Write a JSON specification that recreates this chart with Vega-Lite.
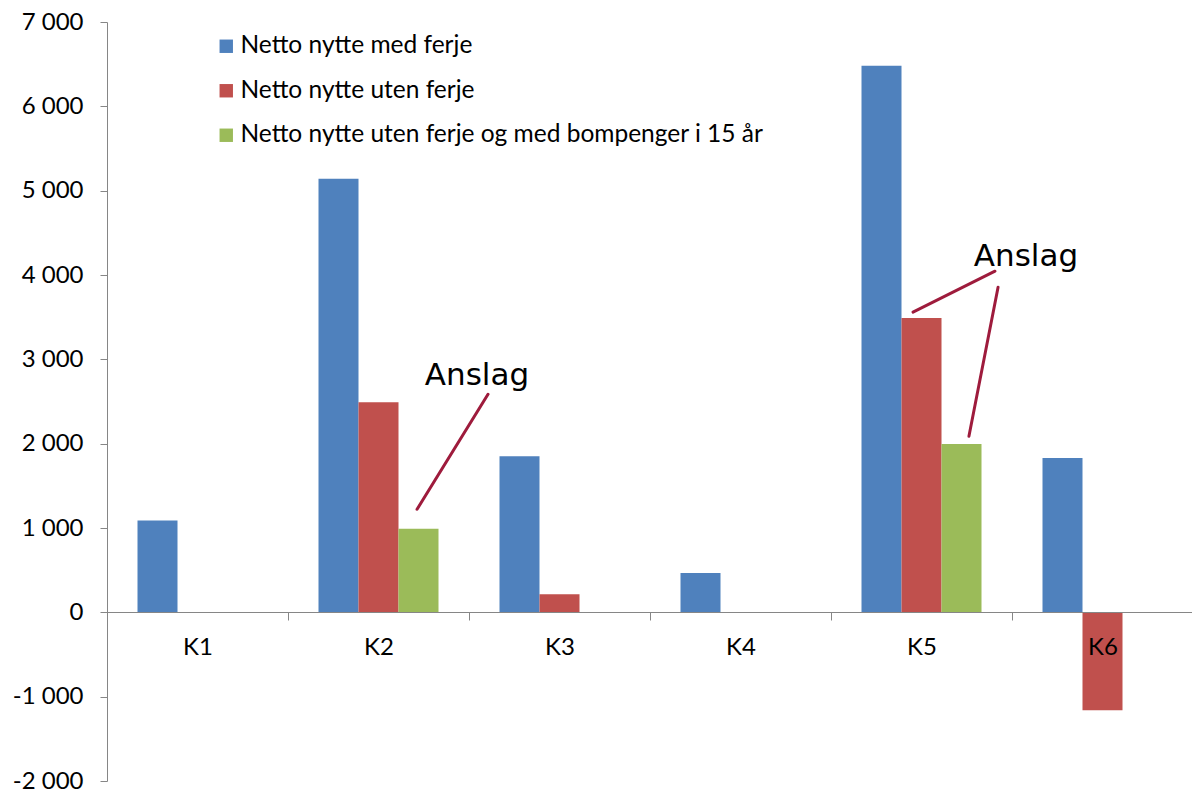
{
  "$schema": "https://vega.github.io/schema/vega-lite/v6.json",
  "width": 1086,
  "height": 759,
  "autosize": {"type": "none"},
  "padding": {"left": 107, "top": 22, "right": 6, "bottom": 11},
  "background": "white",
  "config": {
    "view": {"stroke": null},
    "font": "Lato",
    "axis": {"grid": false, "domainColor": "#868686", "tickColor": "#868686", "labelColor": "#000000", "labelFont": "Lato", "labelFontSize": 24, "title": null},
    "legend": {"labelFont": "Lato", "labelFontSize": 24.5, "labelColor": "#000000"}
  },
  "datasets": {
    "soyler": [
      {"konsept": "K1", "serie": "Netto nytte med ferje", "verdi": 1090},
      {"konsept": "K2", "serie": "Netto nytte med ferje", "verdi": 5140},
      {"konsept": "K2", "serie": "Netto nytte uten ferje", "verdi": 2490},
      {"konsept": "K2", "serie": "Netto nytte uten ferje og med bompenger i 15 år", "verdi": 990},
      {"konsept": "K3", "serie": "Netto nytte med ferje", "verdi": 1850},
      {"konsept": "K3", "serie": "Netto nytte uten ferje", "verdi": 215},
      {"konsept": "K4", "serie": "Netto nytte med ferje", "verdi": 465},
      {"konsept": "K5", "serie": "Netto nytte med ferje", "verdi": 6480},
      {"konsept": "K5", "serie": "Netto nytte uten ferje", "verdi": 3490},
      {"konsept": "K5", "serie": "Netto nytte uten ferje og med bompenger i 15 år", "verdi": 1995},
      {"konsept": "K6", "serie": "Netto nytte med ferje", "verdi": 1830},
      {"konsept": "K6", "serie": "Netto nytte uten ferje", "verdi": -1160}
    ],
    "piler": [
      {"u": 2.105, "v": 2586, "u2": 1.713, "v2": 1222},
      {"u": 4.906, "v": 4045, "u2": 4.453, "v2": 3559},
      {"u": 4.923, "v": 3855, "u2": 4.762, "v2": 2088}
    ],
    "merknader": [
      {"u": 2.044, "v": 2693, "tekst": "Anslag"},
      {"u": 5.077, "v": 4104, "tekst": "Anslag"}
    ]
  },
  "layer": [
    {
      "data": {"name": "soyler"},
      "mark": {"type": "bar", "stroke": null},
      "encoding": {
        "x": {
          "field": "konsept", "type": "nominal",
          "scale": {"paddingInner": 0, "paddingOuter": 0},
          "axis": {"labelAngle": 0, "tickBand": "extent", "tickSize": 8, "labelPadding": 15, "offset": -169, "zindex": 1}
        },
        "xOffset": {
          "field": "serie", "type": "nominal",
          "scale": {"domain": ["Netto nytte med ferje", "Netto nytte uten ferje", "Netto nytte uten ferje og med bompenger i 15 år"], "paddingInner": 0, "paddingOuter": 0.7625}
        },
        "y": {
          "field": "verdi", "type": "quantitative",
          "scale": {"domain": [-2000, 7000], "nice": false, "zero": false},
          "axis": {
            "values": [-2000, -1000, 0, 1000, 2000, 3000, 4000, 5000, 6000, 7000],
            "tickSize": 7, "labelPadding": 17,
            "labelExpr": "(datum.value < 0 ? '-' : '') + replace(format(abs(datum.value), ',d'), ',', ' ')"
          }
        },
        "color": {
          "field": "serie", "type": "nominal",
          "scale": {"domain": ["Netto nytte med ferje", "Netto nytte uten ferje", "Netto nytte uten ferje og med bompenger i 15 år"], "range": ["#4F81BD", "#C0504D", "#9BBB59"]},
          "legend": {"title": null, "orient": "none", "legendX": 107, "legendY": 12, "symbolType": "square", "symbolSize": 180, "symbolStrokeWidth": 0, "rowPadding": 19.5, "labelOffset": 2, "labelLimit": 800}
        }
      }
    },
    {
      "data": {"name": "piler"},
      "mark": {"type": "rule", "color": "#9E1B3C", "strokeWidth": 3, "strokeCap": "round"},
      "encoding": {
        "x": {"field": "u", "type": "quantitative", "scale": {"domain": [0, 6], "nice": false, "zero": false}, "axis": null},
        "x2": {"field": "u2"},
        "y": {"field": "v", "type": "quantitative"},
        "y2": {"field": "v2"}
      }
    },
    {
      "data": {"name": "merknader"},
      "mark": {"type": "text", "font": "DejaVu Sans", "fontSize": 31, "color": "#000000", "align": "center", "baseline": "alphabetic"},
      "encoding": {
        "x": {"field": "u", "type": "quantitative", "scale": {"domain": [0, 6], "nice": false, "zero": false}, "axis": null},
        "y": {"field": "v", "type": "quantitative"},
        "text": {"field": "tekst"}
      }
    }
  ],
  "resolve": {"scale": {"x": "independent"}}
}
